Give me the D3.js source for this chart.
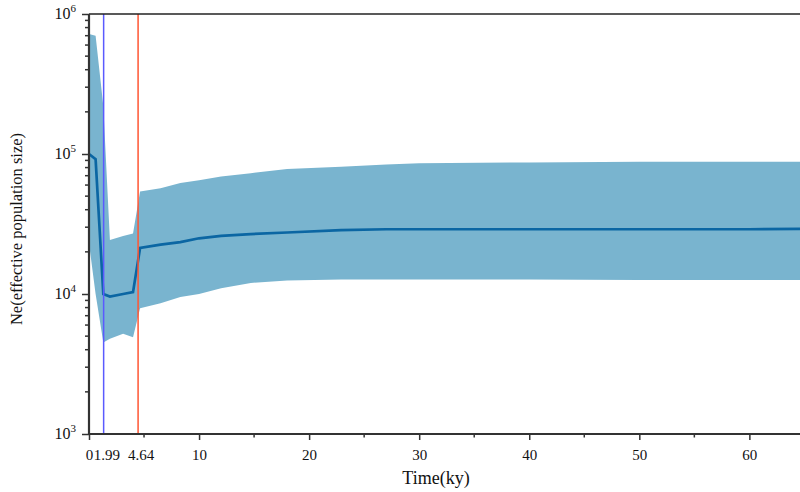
<!DOCTYPE html>
<html>
<head>
  <meta charset='utf-8'>
  <title>Ne history</title>
  <script src="https://cdn.jsdelivr.net/npm/d3@7/dist/d3.min.js"></script>
  <style>
    body { margin: 0; background: #fff; }
  </style>
</head>
<body>
<svg width="800" height="492"></svg>
<script>
  // time (ky) and population sizes
  const times  = [0, 0.6, 1.3, 1.9, 3.1, 4.0, 4.64, 6.5, 8.3, 10, 12, 14.7, 18, 22.9, 27, 30, 40, 50, 60, 66];
  const median = [1e5, 9.2e4, 1.0e4, 9.6e3, 1.0e4, 1.03e4, 2.13e4, 2.25e4, 2.35e4, 2.5e4, 2.6e4, 2.68e4, 2.75e4, 2.86e4, 2.9e4, 2.9e4, 2.9e4, 2.9e4, 2.9e4, 2.92e4];
  const upper  = [7.2e5, 7.0e5, 2.2e5, 2.43e4, 2.6e4, 2.7e4, 5.4e4, 5.7e4, 6.2e4, 6.5e4, 6.9e4, 7.3e4, 7.8e4, 8.1e4, 8.4e4, 8.6e4, 8.7e4, 8.8e4, 8.8e4, 8.8e4];
  const lower  = [2.3e4, 1.0e4, 4.5e3, 4.8e3, 5.2e3, 4.9e3, 7.9e3, 8.6e3, 9.5e3, 1.0e4, 1.1e4, 1.2e4, 1.25e4, 1.27e4, 1.27e4, 1.27e4, 1.27e4, 1.26e4, 1.26e4, 1.26e4];

  const xTicks = [10, 20, 30, 40, 50, 60];
  const xMinor = [5, 15, 25, 35, 45, 55, 65];
  const yTicks = [1e3, 1e4, 1e5, 1e6];
  const events = [1.33, 4.46];
  const eventLabels = ['1.99', '4.64'];
  const eventColors = ['#5a5aff', '#ff5533'];

  const serif = "'Liberation Serif', 'DejaVu Serif', serif";
  const margin = {top: 14, left: 89, bottom: 58};
  const width = 800, height = 492;
  const svg = d3.select('svg');

  const x = d3.scaleLinear().domain([0, 64.6]).range([margin.left, width]);
  const y = d3.scaleLog().domain([1e3, 1e6]).range([height - margin.bottom, margin.top]);

  const rows = times.map((t, i) => ({t: t, m: median[i], lo: lower[i], hi: upper[i]}));

  const plot = svg.append('g');
  plot.append('clipPath').attr('id', 'clip')
    .append('rect')
    .attr('x', margin.left - 3).attr('y', margin.top)
    .attr('width', width - margin.left + 3).attr('height', y(1e3) - margin.top);

  const body = plot.append('g').attr('clip-path', 'url(#clip)');

  body.append('path')
    .datum(rows)
    .attr('fill', '#79b4cf')
    .attr('d', d3.area().x(d => x(d.t)).y0(d => y(d.lo)).y1(d => y(d.hi)));

  body.append('path')
    .datum(rows)
    .attr('fill', 'none')
    .attr('stroke', '#0b66a3')
    .attr('stroke-width', 2.7)
    .attr('d', d3.line().x(d => x(d.t)).y(d => y(d.m)));

  // event lines
  body.selectAll('line.event')
    .data(events)
    .enter().append('line')
    .attr('class', 'event')
    .attr('x1', d => x(d)).attr('x2', d => x(d))
    .attr('y1', margin.top).attr('y2', y(1e3))
    .attr('stroke', (d, i) => eventColors[i])
    .attr('stroke-width', 1.5);

  // top frame line
  svg.append('line')
    .attr('x1', margin.left).attr('x2', width)
    .attr('y1', margin.top).attr('y2', margin.top)
    .attr('stroke', '#222').attr('stroke-width', 1.5);

  // x axis
  const xAxis = svg.append('g')
    .attr('transform', `translate(0,${y(1e3)})`)
    .call(d3.axisBottom(x).tickValues([0].concat(xTicks)).tickSize(6).tickFormat(d3.format('d')));
  xAxis.select('.domain').attr('stroke', '#333').attr('stroke-width', 2.2)
    .attr('d', `M${margin.left},0H${width}`);
  xAxis.selectAll('.tick line').attr('stroke', '#333').attr('stroke-width', 1.5);
  xAxis.selectAll('.tick text').attr('font-size', 15).attr('dy', '1.1em').attr('fill', '#111');

  xAxis.selectAll('.minor')
    .data(xMinor.filter(d => x(d) <= width))
    .enter().append('line')
    .attr('x1', d => x(d)).attr('x2', d => x(d))
    .attr('y1', 0).attr('y2', 3.5)
    .attr('stroke', '#333').attr('stroke-width', 1.5);

  xAxis.selectAll('.evlabel')
    .data(events)
    .enter().append('text')
    .attr('x', d => x(d))
    .attr('dx', (d, i) => i === 0 ? 0 : 3)
    .attr('y', 9)
    .attr('dy', '1.1em')
    .attr('text-anchor', (d, i) => i === 0 ? 'start' : 'middle')
    .attr('transform', (d, i) => i === 0 ? `translate(${-10},0)` : null)
    .attr('font-size', 15)
    .attr('fill', '#111')
    .text((d, i) => eventLabels[i]);

  // y axis
  const yMinor = [];
  for (let e = 3; e < 6; e++) for (let k = 2; k <= 9; k++) yMinor.push(k * Math.pow(10, e));

  const yAxis = svg.append('g')
    .attr('transform', `translate(${margin.left},0)`)
    .call(d3.axisLeft(y).tickValues(yTicks).tickSize(7).tickFormat(() => ''));
  yAxis.select('.domain').attr('stroke', '#333').attr('stroke-width', 2.2)
    .attr('d', `M0,${margin.top}V${y(1e3)}`);
  yAxis.selectAll('.tick line').attr('stroke', '#333').attr('stroke-width', 1.5);

  yAxis.selectAll('.minor')
    .data(yMinor)
    .enter().append('line')
    .attr('x1', -4).attr('x2', 0)
    .attr('y1', d => y(d)).attr('y2', d => y(d))
    .attr('stroke', '#333').attr('stroke-width', 1.5);

  const yLab = yAxis.selectAll('.ylab')
    .data(yTicks)
    .enter().append('text')
    .attr('x', -13)
    .attr('y', d => y(d) + 5)
    .attr('text-anchor', 'end')
    .attr('font-size', 16)
    .attr('fill', '#111');
  yLab.append('tspan').text('10');
  yLab.append('tspan').attr('dy', -7).attr('font-size', 11)
    .text(d => Math.round(Math.log10(d)));

  // titles
  svg.append('text')
    .attr('x', 436)
    .attr('y', 484)
    .attr('text-anchor', 'middle')
    .attr('font-size', 18)
    .attr('fill', '#111')
    .text('Time(ky)');

  svg.append('text')
    .attr('transform', `translate(22,${(margin.top + y(1e3)) / 2 + 5}) rotate(-90)`)
    .attr('text-anchor', 'middle')
    .attr('font-size', 16.5)
    .attr('fill', '#111')
    .text('Ne(effective population size)');

  svg.selectAll('text').style('font-family', serif);
</script>
</body>
</html>
